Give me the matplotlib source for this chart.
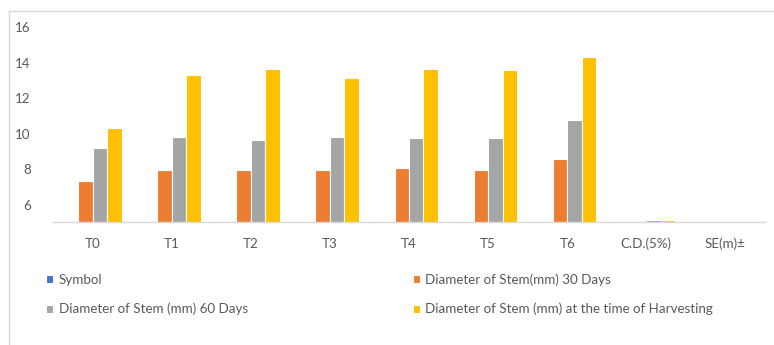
import numpy as np
from matplotlib import pyplot as plt
from matplotlib.lines import Line2D

# treatments along the x axis
categories = ["T0", "T1", "T2", "T3", "T4", "T5", "T6", "C.D.(5%)", "SE(m)±"]

# stem diameter (mm) per treatment
symbol = [np.nan] * 9
stem_30 = [7.35, 7.92, 7.92, 7.95, 8.07, 7.92, 8.58, 5.08, 5.0]
stem_60 = [9.21, 9.78, 9.63, 9.82, 9.72, 9.72, 10.76, 5.12, 5.0]
stem_harvest = [10.29, 13.27, 13.64, 13.13, 13.64, 13.55, 14.32, 5.12, 5.0]

series = [
    ("Symbol", symbol, "#4472C4"),
    ("Diameter of Stem(mm) 30 Days", stem_30, "#ED7D31"),
    ("Diameter of Stem (mm) 60 Days", stem_60, "#A5A5A5"),
    ("Diameter of Stem (mm) at the time of Harvesting", stem_harvest, "#FFC000"),
]

plt.rcParams['font.family'] = ['Lato', 'DejaVu Sans']
text_col = "#595959"
fs = 9.6

fig = plt.figure(figsize=(7.74, 3.45), dpi=100)
ax = fig.add_axes([53 / 774, 1 - 222.3 / 345, (765 - 53) / 774, (222.3 - 27) / 345])

x = np.arange(len(categories))
w = 0.183
for i, (name, vals, col) in enumerate(series):
    ax.bar(x + (i - 1.5) * w, vals, width=w, color=col, edgecolor="white",
           linewidth=0.8, label=name)

ax.set_xlim(-0.5, len(categories) - 0.5)
ax.set_ylim(5, 16)
ax.set_yticks([6, 8, 10, 12, 14, 16])
ax.set_xticks(x)
ax.set_xticklabels(categories)
ax.tick_params(axis="both", length=0, labelsize=fs, colors=text_col)
ax.tick_params(axis="y", pad=16)
ax.tick_params(axis="x", pad=11)
for side in ["top", "right", "left"]:
    ax.spines[side].set_visible(False)
ax.spines["bottom"].set_color("#d9d9d9")
ax.spines["bottom"].set_linewidth(1.0)

# legend, two columns below the plot
handles, labels = ax.get_legend_handles_labels()
order = [0, 2, 1, 3]
fig.legend([handles[k] for k in order], [labels[k] for k in order],
           ncol=2, mode="expand", loc="upper left",
           bbox_to_anchor=(46 / 774, 1 - 273 / 345, (713 - 46) / 774, 0),
           frameon=False, fontsize=fs, labelcolor=text_col,
           handlelength=0.55, handleheight=0.55, handletextpad=0.4,
           labelspacing=1.3, borderpad=0, borderaxespad=0)

# chart-area frame lines
fig.add_artist(Line2D([9 / 774, 1], [1 - 11 / 345] * 2, color="#d9d9d9", lw=1))
fig.add_artist(Line2D([9 / 774] * 2, [0, 1 - 11 / 345], color="#d9d9d9", lw=1))

fig.savefig("out.png", dpi=100)
